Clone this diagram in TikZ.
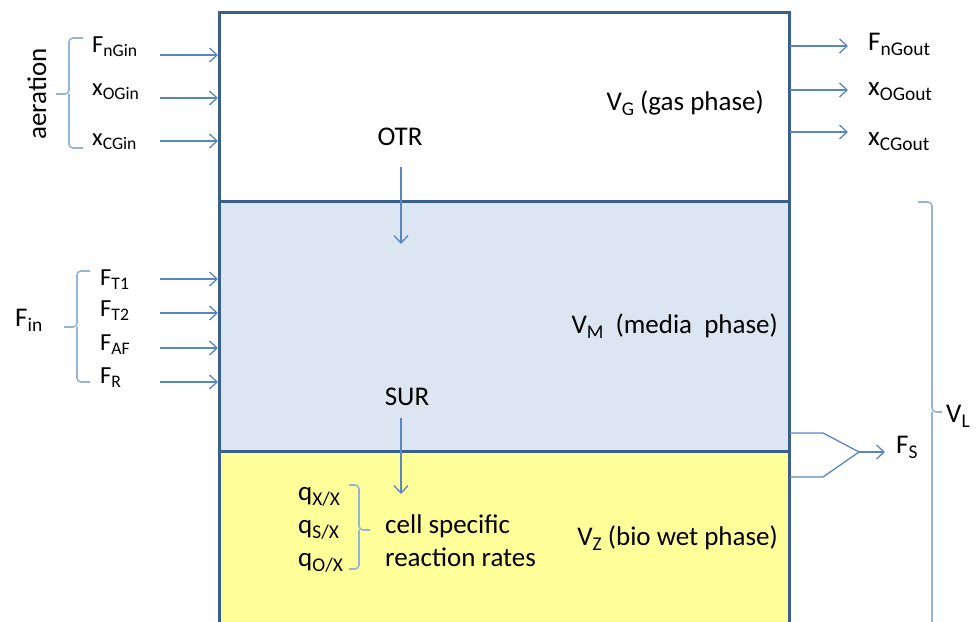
\documentclass[tikz,border=0pt]{standalone}
\usepackage{fontspec}
\setmainfont{Carlito}
\usetikzlibrary{arrows.meta}

% lowered, reduced subscript in the style of a word processor
\newcommand\lo[1]{\raisebox{-0.2em}{\scalebox{0.72}{#1}}}

\definecolor{frame}{HTML}{3A5F8E}
\definecolor{flow}{HTML}{5A86C0}
\definecolor{bracecol}{HTML}{95B3D7}
\definecolor{media}{HTML}{DCE6F2}
\definecolor{bio}{HTML}{FFFF99}

\begin{document}
\begin{tikzpicture}[x=1pt,y=-1pt,
  big/.style={font=\fontsize{27}{31}\selectfont, inner sep=0pt},
  small/.style={font=\fontsize{24.5}{28}\selectfont, inner sep=0pt},
  flowarrow/.style={draw=flow, line width=1.3pt,
    -{Straight Barb[length=7.5pt,width=14pt,line width=1.3pt]}},
  flowline/.style={draw=flow, line width=1.3pt},
  bracket/.style={draw=bracecol, line width=1.6pt, rounded corners=4pt},
  wall/.style={draw=frame, line width=3pt},
  ]
\useasboundingbox (0,0) rectangle (976,621);
\clip (0,0) rectangle (976,621);
\fill[white] (0,0) rectangle (976,621);

% reactor phases
\fill[media] (219,201) rectangle (789,451);
\fill[bio] (219,451) rectangle (789,660);
\draw[wall] (219,660) -- (219,12) -- (789,12) -- (789,660);
\draw[wall] (219,201) -- (789,201);
\draw[wall] (219,451) -- (789,451);

% phase labels
\node[big, anchor=base east] (vg) at (764,110) {V\lo{G} (gas phase)};
\node[big, anchor=base east] (vm) at (778,333) {V\lo{M}\hspace{0.45em}(media\hspace{0.45em}phase)};
\node[big, anchor=base east] (vz) at (778,545) {V\lo{Z} (bio wet phase)};

% transfer rates
\node[big, anchor=base] (otr) at (400,145) {OTR};
\node[big, anchor=base] (sur) at (407,405) {SUR};
\coordinate (otrA) at (401,167);
\coordinate (otrB) at (401,244);
\coordinate (surA) at (401,418);
\coordinate (surB) at (401,494);
\draw[flowarrow] (otrA) -- (otrB);
\draw[flowarrow] (surA) -- (surB);

% aeration inputs
\node[big, rotate=90] (aer) at (37,94) {aeration};
\draw[bracket] (83,38) -- (69,38) -- (69,94) -- (56,94);
\draw[bracket] (69,94) -- (69,148) -- (83,148);
\node[small, anchor=base west] (fngin) at (92,52) {F\lo{nGin}};
\node[small, anchor=base west] (xogin) at (92,95) {x\lo{OGin}};
\node[small, anchor=base west] (xcgin) at (92,145) {x\lo{CGin}};
\foreach \n/\y in {a/55, b/98, c/141}{
  \coordinate (ain\n) at (160,\y);
  \coordinate (aend\n) at (218,\y);
  \draw[flowarrow] (ain\n) -- (aend\n);
}

% feed inputs
\node[big, anchor=base west] (fin) at (15,326) {F\lo{in}};
\draw[bracket] (90,271) -- (77,271) -- (77,327) -- (64,327);
\draw[bracket] (77,327) -- (77,382) -- (90,382);
\node[small, anchor=base west] (ft1) at (100,285) {F\lo{T1}};
\node[small, anchor=base west] (ft2) at (100,316) {F\lo{T2}};
\node[small, anchor=base west] (faf) at (100,350) {F\lo{AF}};
\node[small, anchor=base west] (fr)  at (100,383) {F\lo{R}};
\foreach \n/\y in {a/279, b/313, c/348, d/382}{
  \coordinate (fin\n) at (160,\y);
  \coordinate (fend\n) at (218,\y);
  \draw[flowarrow] (fin\n) -- (fend\n);
}

% gas outputs
\node[big, anchor=base west] (fngout) at (868,50) {F\lo{nGout}};
\node[big, anchor=base west] (xogout) at (868,95) {x\lo{OGout}};
\node[big, anchor=base west] (xcgout) at (868,145) {x\lo{CGout}};
\foreach \n/\y in {a/46, b/90, c/132}{
  \coordinate (gout\n) at (790,\y);
  \coordinate (gend\n) at (848,\y);
  \draw[flowarrow] (gout\n) -- (gend\n);
}

% cell specific rates
\node[big, anchor=base west] (qx) at (298,500) {q\lo{X/X}};
\node[big, anchor=base west] (qs) at (298,533) {q\lo{S/X}};
\node[big, anchor=base west] (qo) at (298,566) {q\lo{O/X}};
\draw[bracket] (349,485) -- (359,485) -- (359,530) -- (370,530);
\draw[bracket] (359,530) -- (359,569) -- (349,569);
\node[big, anchor=base west] (csp) at (385,533) {cell specific};
\node[big, anchor=base west] (rr) at (385,566) {reaction rates};

% sampling outflow
\coordinate (sTop) at (790,433);
\coordinate (sBot) at (790,477);
\coordinate (sJoin) at (859,452);
\coordinate (sEnd) at (885,452);
\draw[flowline, line join=miter] (sTop) -- (823,433) -- (sJoin) -- (823,477) -- (sBot);
\draw[flowarrow] (sJoin) -- (sEnd);
\node[big, anchor=base west] (fs) at (896,453) {F\lo{S}};

% liquid volume
\draw[bracket] (918,202) -- (932,202) -- (932,412) -- (942,412);
\draw[bracket] (932,412) -- (932,660);
\node[big, anchor=base west] (vl) at (946,422) {V\lo{L}};
\end{tikzpicture}
\end{document}
